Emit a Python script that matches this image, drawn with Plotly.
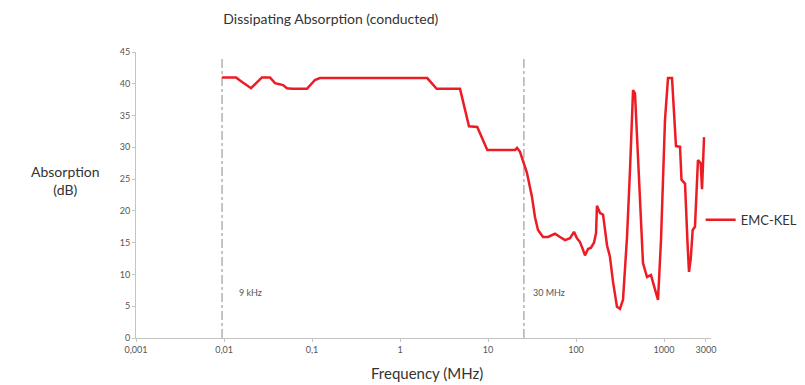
import math
import plotly.graph_objects as go

# frequency (MHz) vs absorption (dB)
freq = [0.0095, 0.0137, 0.0152, 0.0173, 0.0203, 0.0270, 0.0333, 0.0380, 0.0468, 0.0520,
        0.0593, 0.0731, 0.0877, 0.108, 0.123, 2.04, 2.61, 4.81, 6.08, 7.55, 9.82,
        20.3, 21.4, 23.1, 25.0, 27.7, 31.6, 34.2, 37.0, 42.2, 48.1, 57.7, 65.8, 75.0,
        85.5, 94.9, 102.6, 111, 120, 126.5, 137, 148, 160, 169, 173, 187, 203, 216,
        225, 243, 263, 292, 316, 342, 380, 411, 445, 468, 507, 577, 641, 711, 791,
        855, 925, 975, 1026, 1110, 1233, 1368, 1520, 1581, 1733, 1849, 1923, 2011,
        2118, 2249, 2432, 2612, 2704, 2851]
absorption = [41.0, 41.0, 40.5, 40.0, 39.3, 41.0, 41.0, 40.1, 39.8, 39.3,
              39.2, 39.2, 39.2, 40.6, 40.9, 40.9, 39.2, 39.2, 33.3, 33.2, 29.6,
              29.6, 29.9, 29.3, 28.0, 26.0, 22.2, 19.0, 17.0, 15.9, 15.9, 16.4, 15.9, 15.4,
              15.7, 16.7, 15.7, 15.1, 13.9, 13.0, 14.0, 14.2, 15.0, 16.5, 20.8, 19.7, 19.4, 16.0,
              14.6, 12.8, 8.9, 4.9, 4.6, 6.0, 15.9, 26.5, 39.0, 38.5, 27.6, 11.8, 9.6, 9.9, 7.6,
              6.0, 15.5, 26.5, 34.3, 40.9, 40.9, 30.2, 30.1, 24.9, 24.3, 15.0, 10.4, 12.4,
              17.0, 17.5, 28.0, 27.5, 23.4, 31.6]

# vertical reference lines
marker_freqs = [0.0095, 25.6]
marker_labels = ["9 kHz", "30 MHz"]
marker_top = 44.2

tick_vals = [0.001, 0.01, 0.1, 1, 10, 100, 1000, 3000]
tick_text = ["0,001", "0,01", "0,1", "1", "10", "100", "1000", "3000"]

FONT = "Lato"
RED = "#ec1c24"
AXIS = "#c4c4c4"

fig = go.Figure()

for f in marker_freqs:
    fig.add_trace(go.Scatter(x=[f, f], y=[0, marker_top], mode="lines",
                             line=dict(color="#8a8a8a", width=1, dash="dashdot"),
                             showlegend=False, hoverinfo="skip"))

fig.add_trace(go.Scatter(x=freq, y=absorption, mode="lines", name="EMC-KEL",
                         line=dict(color=RED, width=2.5)))

# annotations on a log axis take log10 positions
for f, lab, shift in zip(marker_freqs, marker_labels, [15, 7]):
    fig.add_annotation(x=math.log10(f), y=7.1, text=lab, showarrow=False,
                       xanchor="left", xshift=shift,
                       font=dict(size=9, color="#555", family=FONT))

fig.add_annotation(xref="paper", yref="paper", x=-0.122, y=0.55,
                   xanchor="center", yanchor="middle",
                   text="Absorption<br>(dB)", showarrow=False,
                   font=dict(size=14, color="#333", family=FONT))
fig.add_annotation(xref="paper", yref="paper", x=0.506, y=-0.122,
                   xanchor="center", yanchor="middle",
                   text="Frequency (MHz)", showarrow=False,
                   font=dict(size=15, color="#333", family=FONT))

fig.update_layout(
    width=805, height=385,
    margin=dict(l=128, r=102, t=44, b=55, autoexpand=False),
    paper_bgcolor="white", plot_bgcolor="white",
    font=dict(family=FONT, color="#555"),
    title=dict(text="Dissipating Absorption (conducted)", x=0.401, xref="container",
               xanchor="center", y=0.971, yref="container", yanchor="middle",
               font=dict(size=14, color="#333", family=FONT)),
    legend=dict(x=0.982, xanchor="left", y=0.413, yanchor="middle",
                font=dict(size=13, color="#333", family=FONT)),
    showlegend=True,
)
fig.update_xaxes(type="log", range=[-3, 3.534], tickvals=tick_vals, ticktext=tick_text,
                 showgrid=False, zeroline=False, showline=True, linecolor=AXIS,
                 ticks="outside", ticklen=3, tickcolor=AXIS, automargin=False,
                 tickfont=dict(size=9, color="#555"))
fig.update_yaxes(range=[0, 45], dtick=5, showgrid=False, zeroline=False,
                 showline=True, linecolor=AXIS, ticks="outside", ticklen=3,
                 tickcolor=AXIS, automargin=False, tickfont=dict(size=9, color="#555"))

fig.write_html("out.html")
